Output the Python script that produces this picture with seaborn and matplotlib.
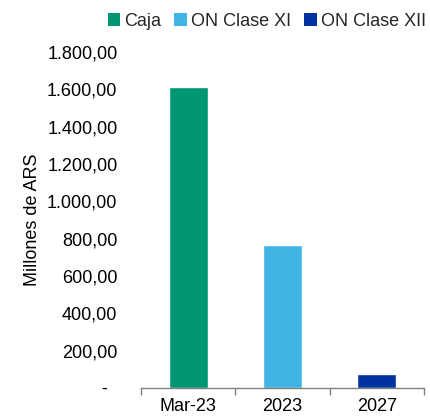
import matplotlib
matplotlib.use("Agg")
import matplotlib.pyplot as plt
import seaborn as sns
import pandas as pd
from matplotlib.patches import Patch
from matplotlib.ticker import FuncFormatter, FixedLocator

categories = ["Mar-23", "2023", "2027"]
series = ["Caja", "ON Clase XI", "ON Clase XII"]
values = [1612, 768, 75]
colors = ["#009673", "#41B4E4", "#0033A0"]
y_ticks = [0, 200, 400, 600, 800, 1000, 1200, 1400, 1600, 1800]

sns.set_theme(style="white")
plt.rcParams["font.family"] = ["Liberation Sans", "DejaVu Sans"]

df = pd.DataFrame({"cat": categories, "serie": series, "val": values})

fig = plt.figure(figsize=(4.3, 4.2), dpi=100)
ax = fig.add_axes([0.328, 0.0762, 0.658, 0.8])
sns.barplot(data=df, x="cat", y="val", hue="serie", hue_order=series,
            palette=colors, dodge=False, width=0.41, saturation=1, ax=ax, legend=False)

ax.set_ylim(0, 1800)
ax.set_xlim(-0.5, 2.5)
ax.yaxis.set_major_locator(FixedLocator(y_ticks))

def fmt(v, pos):
    if v == 0:
        return "-  "
    s = f"{v:,.2f}"
    return s.replace(",", "X").replace(".", ",").replace("X", ".")
ax.yaxis.set_major_formatter(FuncFormatter(fmt))

for s in ["top", "right", "left"]:
    ax.spines[s].set_visible(False)
ax.spines["bottom"].set_color("#7f7f7f")
ax.spines["bottom"].set_linewidth(1.0)

ax.tick_params(axis="y", length=0, pad=17, labelsize=13, labelcolor="#000000")
ax.tick_params(axis="x", which="major", length=0, pad=7, labelsize=13, labelcolor="#000000")
ax.set_xticks([-0.5, 0.5, 1.5, 2.5], minor=True)
ax.tick_params(axis="x", which="minor", bottom=True, length=5, width=1,
               color="#7f7f7f", direction="out")

ax.set_xlabel("")
ax.set_ylabel("Millones de ARS", fontsize=13, color="#000000", labelpad=4)

handles = [Patch(facecolor=c, edgecolor="none") for c in colors]
fig.legend(handles, series, loc="center", bbox_to_anchor=(0.62, 0.95), ncol=3,
           frameon=False, fontsize=13, handlelength=0.7, handleheight=0.7,
           handletextpad=0.2, columnspacing=0.75, borderaxespad=0)

fig.savefig("out.png", dpi=100)
